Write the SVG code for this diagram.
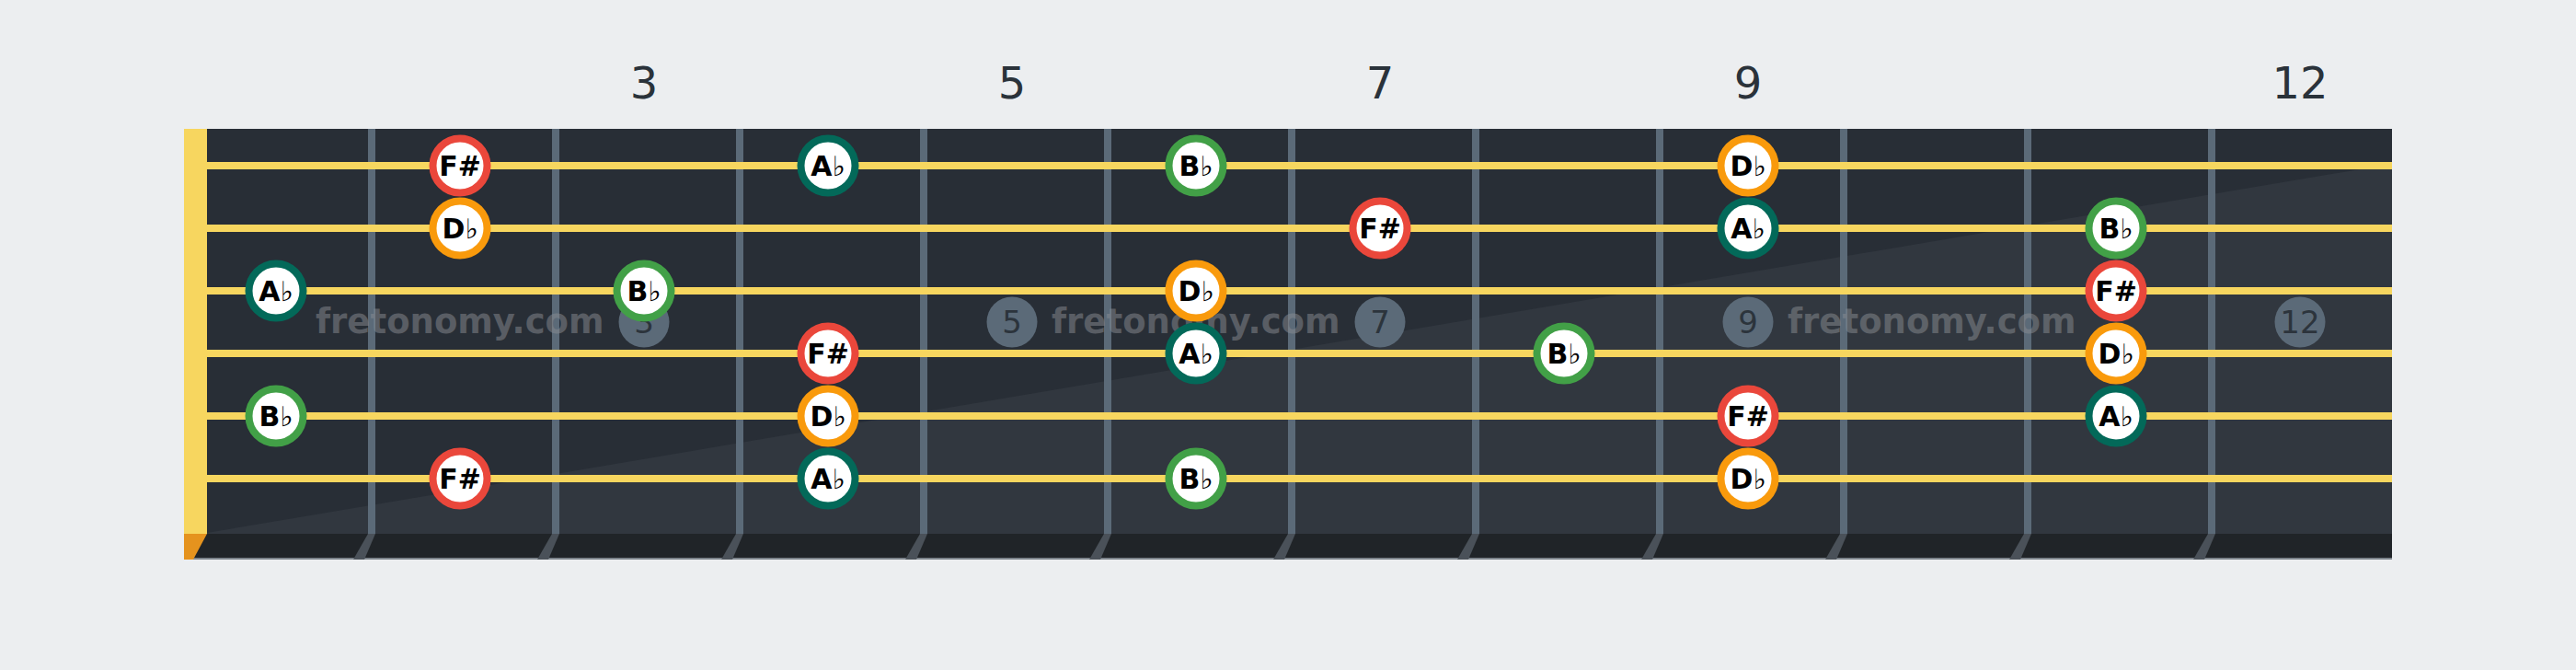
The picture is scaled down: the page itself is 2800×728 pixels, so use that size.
<svg xmlns="http://www.w3.org/2000/svg" width="2800" height="728" viewBox="0 0 2800 728">
<style>
.str{fill:#f7d65f}
.fret{fill:#5b6a78}
.fs{fill:#4a5159}
.inlay{fill:#5b6a78}
.inum{font-family:"DejaVu Sans",sans-serif;font-size:34px;fill:#2c343c;text-anchor:middle}
.fnum{font-family:"DejaVu Sans",sans-serif;font-size:48px;fill:#2a323a;text-anchor:middle}
.wm{font-family:"DejaVu Sans",sans-serif;font-weight:bold;font-size:37px;fill:#8a8d92;opacity:0.5}
.nc{fill:#fff;stroke-width:8}
.nt{font-family:"DejaVu Sans",sans-serif;font-weight:bold;font-size:30px;fill:#000;text-anchor:middle}
.fl{font-weight:normal}
.red{stroke:#ea473b}
.org{stroke:#f99a0c}
.teal{stroke:#036959}
.grn{stroke:#42a047}
</style>
<rect x="0" y="0" width="2800" height="728" fill="#eceef0"/>
<g id="fretboard">
<rect x="225" y="140" width="2375" height="440" fill="#282e36"/>
<polygon points="225,579 2600,178 2600,580 225,580" fill="#31373f"/>
<rect x="200" y="580" width="2400" height="26" fill="#202428"/>
<rect x="200" y="606" width="2400" height="2" fill="#7c838b"/>
<polygon points="200,580 225,580 210,608 200,608" fill="#e5931e"/>
<rect x="200" y="140" width="25" height="440" fill="#f7d65f"/>
</g>
<g id="frets">
<rect class="fret" x="400" y="140" width="8" height="440"/>
<rect class="fret" x="600" y="140" width="8" height="440"/>
<rect class="fret" x="800" y="140" width="8" height="440"/>
<rect class="fret" x="1000" y="140" width="8" height="440"/>
<rect class="fret" x="1200" y="140" width="8" height="440"/>
<rect class="fret" x="1400" y="140" width="8" height="440"/>
<rect class="fret" x="1600" y="140" width="8" height="440"/>
<rect class="fret" x="1800" y="140" width="8" height="440"/>
<rect class="fret" x="2000" y="140" width="8" height="440"/>
<rect class="fret" x="2200" y="140" width="8" height="440"/>
<rect class="fret" x="2400" y="140" width="8" height="440"/>
<polygon class="fs" points="400,580 408,580 396,608 384,608"/>
<polygon class="fs" points="600,580 608,580 596,608 584,608"/>
<polygon class="fs" points="800,580 808,580 796,608 784,608"/>
<polygon class="fs" points="1000,580 1008,580 996,608 984,608"/>
<polygon class="fs" points="1200,580 1208,580 1196,608 1184,608"/>
<polygon class="fs" points="1400,580 1408,580 1396,608 1384,608"/>
<polygon class="fs" points="1600,580 1608,580 1596,608 1584,608"/>
<polygon class="fs" points="1800,580 1808,580 1796,608 1784,608"/>
<polygon class="fs" points="2000,580 2008,580 1996,608 1984,608"/>
<polygon class="fs" points="2200,580 2208,580 2196,608 2184,608"/>
<polygon class="fs" points="2400,580 2408,580 2396,608 2384,608"/>
</g>
<g id="fret-numbers">
<text class="fnum" x="700" y="107">3</text>
<text class="fnum" x="1100" y="107">5</text>
<text class="fnum" x="1500" y="107">7</text>
<text class="fnum" x="1900" y="107">9</text>
<text class="fnum" x="2500" y="107">12</text>
</g>
<g id="inlays">
<circle class="inlay" cx="700" cy="350" r="27.5"/>
<text class="inum" x="700" y="362">3</text>
<circle class="inlay" cx="1100" cy="350" r="27.5"/>
<text class="inum" x="1100" y="362">5</text>
<circle class="inlay" cx="1500" cy="350" r="27.5"/>
<text class="inum" x="1500" y="362">7</text>
<circle class="inlay" cx="1900" cy="350" r="27.5"/>
<text class="inum" x="1900" y="362">9</text>
<circle class="inlay" cx="2500" cy="350" r="27.5"/>
<text class="inum" x="2500" y="362">12</text>
</g>
<g id="strings">
<rect class="str" x="225" y="176" width="2375" height="8"/>
<rect class="str" x="225" y="244" width="2375" height="8"/>
<rect class="str" x="225" y="312" width="2375" height="8"/>
<rect class="str" x="225" y="380" width="2375" height="8"/>
<rect class="str" x="225" y="448" width="2375" height="8"/>
<rect class="str" x="225" y="516" width="2375" height="8"/>
</g>
<g id="watermarks">
<text class="wm" x="343" y="362">fretonomy.com</text>
<text class="wm" x="1143" y="362">fretonomy.com</text>
<text class="wm" x="1943" y="362">fretonomy.com</text>
</g>
<g id="notes">
<g id="s1-f2"><circle class="nc red" cx="500" cy="180" r="29.5"/><text class="nt" x="500" y="191">F#</text></g>
<g id="s1-f4"><circle class="nc teal" cx="900" cy="180" r="29.5"/><text class="nt" x="900" y="191">A<tspan class="fl">♭</tspan></text></g>
<g id="s1-f6"><circle class="nc grn" cx="1300" cy="180" r="29.5"/><text class="nt" x="1300" y="191">B<tspan class="fl">♭</tspan></text></g>
<g id="s1-f9"><circle class="nc org" cx="1900" cy="180" r="29.5"/><text class="nt" x="1900" y="191">D<tspan class="fl">♭</tspan></text></g>
<g id="s2-f2"><circle class="nc org" cx="500" cy="248" r="29.5"/><text class="nt" x="500" y="259">D<tspan class="fl">♭</tspan></text></g>
<g id="s2-f7"><circle class="nc red" cx="1500" cy="248" r="29.5"/><text class="nt" x="1500" y="259">F#</text></g>
<g id="s2-f9"><circle class="nc teal" cx="1900" cy="248" r="29.5"/><text class="nt" x="1900" y="259">A<tspan class="fl">♭</tspan></text></g>
<g id="s2-f11"><circle class="nc grn" cx="2300" cy="248" r="29.5"/><text class="nt" x="2300" y="259">B<tspan class="fl">♭</tspan></text></g>
<g id="s3-f1"><circle class="nc teal" cx="300" cy="316" r="29.5"/><text class="nt" x="300" y="327">A<tspan class="fl">♭</tspan></text></g>
<g id="s3-f3"><circle class="nc grn" cx="700" cy="316" r="29.5"/><text class="nt" x="700" y="327">B<tspan class="fl">♭</tspan></text></g>
<g id="s3-f6"><circle class="nc org" cx="1300" cy="316" r="29.5"/><text class="nt" x="1300" y="327">D<tspan class="fl">♭</tspan></text></g>
<g id="s3-f11"><circle class="nc red" cx="2300" cy="316" r="29.5"/><text class="nt" x="2300" y="327">F#</text></g>
<g id="s4-f4"><circle class="nc red" cx="900" cy="384" r="29.5"/><text class="nt" x="900" y="395">F#</text></g>
<g id="s4-f6"><circle class="nc teal" cx="1300" cy="384" r="29.5"/><text class="nt" x="1300" y="395">A<tspan class="fl">♭</tspan></text></g>
<g id="s4-f8"><circle class="nc grn" cx="1700" cy="384" r="29.5"/><text class="nt" x="1700" y="395">B<tspan class="fl">♭</tspan></text></g>
<g id="s4-f11"><circle class="nc org" cx="2300" cy="384" r="29.5"/><text class="nt" x="2300" y="395">D<tspan class="fl">♭</tspan></text></g>
<g id="s5-f1"><circle class="nc grn" cx="300" cy="452" r="29.5"/><text class="nt" x="300" y="463">B<tspan class="fl">♭</tspan></text></g>
<g id="s5-f4"><circle class="nc org" cx="900" cy="452" r="29.5"/><text class="nt" x="900" y="463">D<tspan class="fl">♭</tspan></text></g>
<g id="s5-f9"><circle class="nc red" cx="1900" cy="452" r="29.5"/><text class="nt" x="1900" y="463">F#</text></g>
<g id="s5-f11"><circle class="nc teal" cx="2300" cy="452" r="29.5"/><text class="nt" x="2300" y="463">A<tspan class="fl">♭</tspan></text></g>
<g id="s6-f2"><circle class="nc red" cx="500" cy="520" r="29.5"/><text class="nt" x="500" y="531">F#</text></g>
<g id="s6-f4"><circle class="nc teal" cx="900" cy="520" r="29.5"/><text class="nt" x="900" y="531">A<tspan class="fl">♭</tspan></text></g>
<g id="s6-f6"><circle class="nc grn" cx="1300" cy="520" r="29.5"/><text class="nt" x="1300" y="531">B<tspan class="fl">♭</tspan></text></g>
<g id="s6-f9"><circle class="nc org" cx="1900" cy="520" r="29.5"/><text class="nt" x="1900" y="531">D<tspan class="fl">♭</tspan></text></g>
</g>
<g id="connectors"/>
</svg>
